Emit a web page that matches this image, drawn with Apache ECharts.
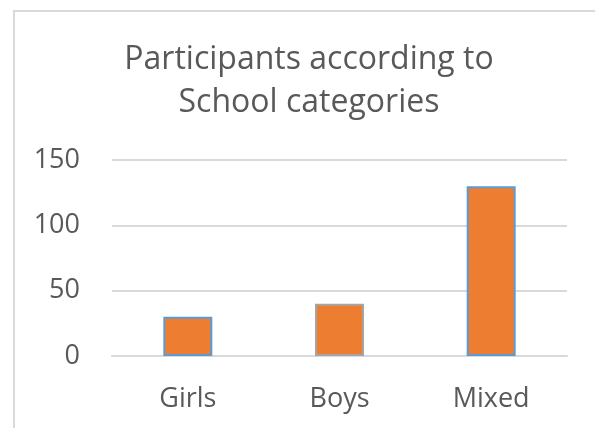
<!DOCTYPE html>
<html>
<head>
<meta charset="utf-8">
<script src="https://cdn.jsdelivr.net/npm/echarts@6/dist/echarts.min.js"></script>
<style>
  html, body { margin: 0; padding: 0; background: #fff; }
  #chart { width: 595px; height: 428px; }
</style>
</head>
<body>
<div id="chart"></div>
<script>
const categories = ['Girls', 'Boys', 'Mixed']
const participants = [30, 40, 130]
const borderColors = ['#5B9BD5', '#A5A5A5', '#5B9BD5']
const yTicks = [0, 50, 100, 150]

const chart = echarts.init(document.getElementById('chart'))
chart.setOption({
  backgroundColor: '#fff',
  textStyle: { fontFamily: 'Open Sans' },
  title: {
    text: 'Participants according to\nSchool categories',
    left: 304,
    top: 33,
    textAlign: 'center',
    textStyle: {
      color: '#595959',
      fontSize: 32,
      fontWeight: 'normal',
      lineHeight: 43,
      fontFamily: 'Open Sans'
    }
  },
  graphic: [{
    type: 'rect',
    shape: { x: 14, y: 11, width: 620, height: 440 },
    style: { fill: 'none', stroke: '#d9d9d9', lineWidth: 2 },
    silent: true
  }],
  grid: { left: 112, right: 28, top: 160, bottom: 72 },
  xAxis: {
    type: 'category',
    data: categories,
    axisTick: { show: false },
    axisLine: { lineStyle: { color: '#d9d9d9', width: 2 } },
    axisLabel: { color: '#595959', fontSize: 27, margin: 30 }
  },
  yAxis: {
    type: 'value',
    min: yTicks[0],
    max: yTicks[yTicks.length - 1],
    interval: 50,
    axisLine: { show: false },
    axisTick: { show: false },
    axisLabel: { color: '#595959', fontSize: 27, margin: 32 },
    splitLine: { lineStyle: { color: '#d9d9d9', width: 2 } }
  },
  series: [{
    type: 'bar',
    barWidth: 49,
    data: participants.map((v, i) => ({
      value: v,
      itemStyle: { color: '#ED7D31', borderColor: borderColors[i], borderWidth: 2 }
    }))
  }]
})
</script>
</body>
</html>
